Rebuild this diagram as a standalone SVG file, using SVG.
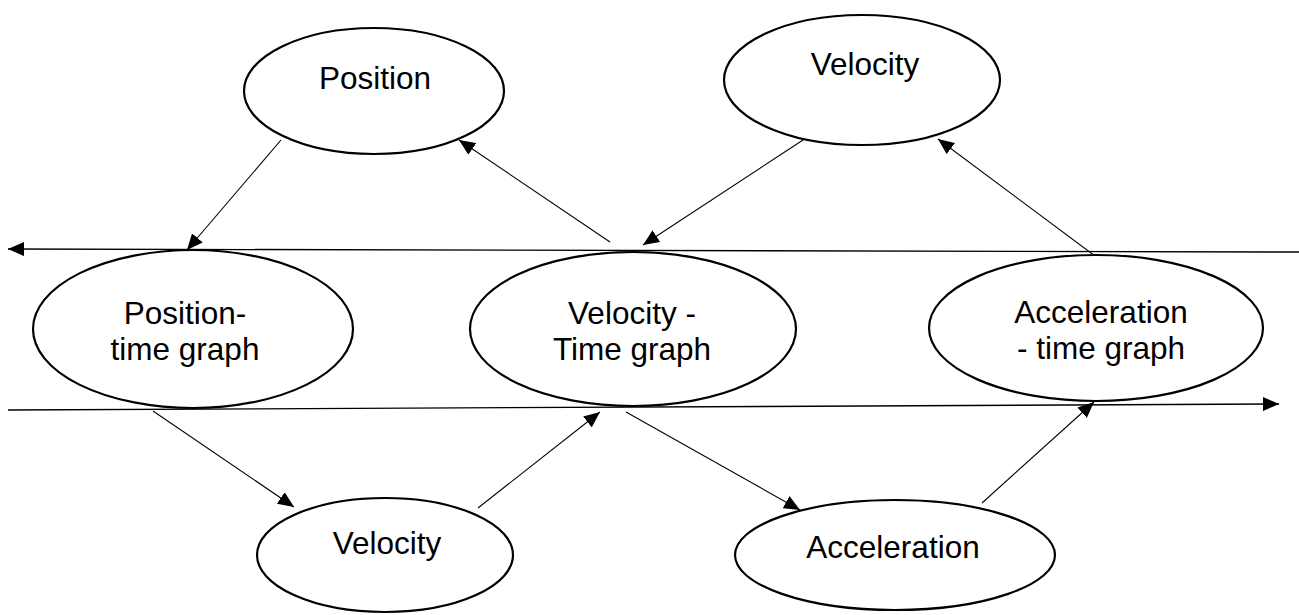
<svg xmlns="http://www.w3.org/2000/svg" width="1299" height="615" viewBox="0 0 1299 615">
<style>
.n ellipse{fill:#fff;stroke:#000;stroke-width:2.2}
.n text{font-family:"Liberation Sans",Arial,sans-serif;font-size:31.5px;fill:#000;text-anchor:middle}
.c line{stroke:#000;stroke-width:1.1;fill:none}
.c line.h{stroke-width:1.4}
</style>
<defs>
<marker id="ah" viewBox="0 0 16 14" refX="16" refY="7" markerWidth="16" markerHeight="14" markerUnits="userSpaceOnUse" orient="auto">
<path d="M0,0 L16,7 L0,14 Z" fill="#000"/>
</marker>
</defs>
<rect width="1299" height="615" fill="#fff"/>
<g id="connectors" class="c">
<line class="h" x1="1299" y1="252" x2="8" y2="249" marker-end="url(#ah)"/>
<line class="h" x1="8" y1="410" x2="1279" y2="404" marker-end="url(#ah)"/>
<line x1="281" y1="140" x2="187" y2="250" marker-end="url(#ah)"/>
<line x1="610" y1="242" x2="459" y2="140" marker-end="url(#ah)"/>
<line x1="803" y1="140" x2="643" y2="245" marker-end="url(#ah)"/>
<line x1="1095" y1="256" x2="938" y2="139" marker-end="url(#ah)"/>
<line x1="153" y1="411" x2="294" y2="507" marker-end="url(#ah)"/>
<line x1="478" y1="508" x2="600" y2="412" marker-end="url(#ah)"/>
<line x1="626" y1="412" x2="800" y2="510" marker-end="url(#ah)"/>
<line x1="982" y1="503" x2="1094" y2="402" marker-end="url(#ah)"/>
</g>
<g id="position" class="n">
<ellipse cx="374" cy="91" rx="130" ry="63"/>
<text x="375" y="89">Position</text>
</g>
<g id="velocity-top" class="n">
<ellipse cx="862" cy="80" rx="138" ry="65"/>
<text x="865" y="75">Velocity</text>
</g>
<g id="position-time" class="n">
<ellipse cx="193" cy="329" rx="160" ry="79"/>
<text x="185" y="324">Position-</text>
<text x="185" y="360">time graph</text>
</g>
<g id="velocity-time" class="n">
<ellipse cx="633" cy="329" rx="163" ry="77"/>
<text x="632" y="324">Velocity -</text>
<text x="632" y="360">Time graph</text>
</g>
<g id="acceleration-time" class="n">
<ellipse cx="1096" cy="328" rx="167" ry="73"/>
<text x="1101" y="323">Acceleration</text>
<text x="1101" y="359">- time graph</text>
</g>
<g id="velocity-bottom" class="n">
<ellipse cx="385" cy="555" rx="128" ry="57"/>
<text x="387" y="554">Velocity</text>
</g>
<g id="acceleration-bottom" class="n">
<ellipse cx="895" cy="555" rx="160" ry="55"/>
<text x="893" y="558">Acceleration</text>
</g>
</svg>
